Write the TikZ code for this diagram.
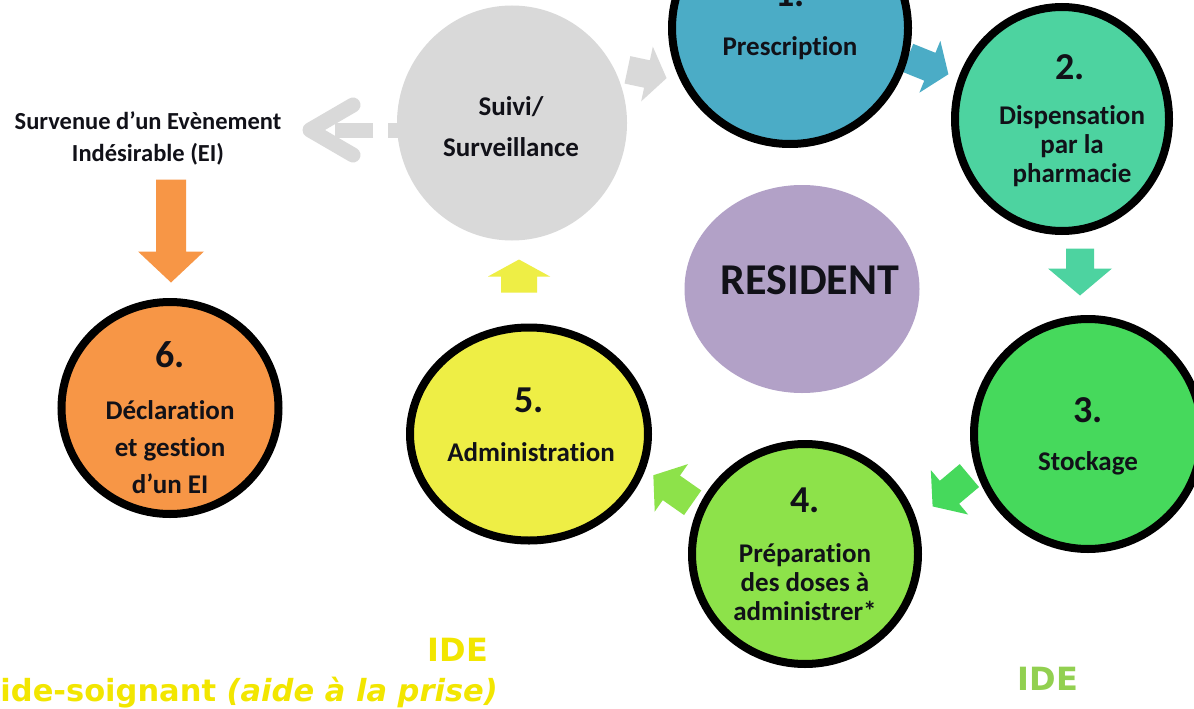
\documentclass[tikz,border=0pt]{standalone}
\usepackage{fontspec}
\usetikzlibrary{shapes.geometric}
\newfontfamily\calfont[Ligatures=NoCommon]{Carlito}
\newfontfamily\comicfont{DejaVu Sans}
\definecolor{colA}{HTML}{4BACC6}
\definecolor{colB}{HTML}{4DD3A0}
\definecolor{colC}{HTML}{46D95C}
\definecolor{colD}{HTML}{8DE24A}
\definecolor{colE}{HTML}{EEEE45}
\definecolor{colF}{HTML}{F79646}
\definecolor{colG}{HTML}{D9D9D9}
\definecolor{colP}{HTML}{B2A1C7}
\definecolor{txt}{HTML}{111118}
\definecolor{yeltxt}{HTML}{F2E600}
\definecolor{grntxt}{HTML}{92D050}
\newcommand\blockarr[8]{\fill[#4,shift={(#1,#2)},rotate=#3] (-#5/2,-#6/2) -- ({#5/2-#8},-#6/2) -- ({#5/2-#8},-#7/2) -- (#5/2,0) -- ({#5/2-#8},#7/2) -- ({#5/2-#8},#6/2) -- (-#5/2,#6/2) -- cycle;}
\tikzset{
  ring/.style={ellipse, draw=black, line width=8pt, inner sep=0pt},
  blob/.style={ellipse, inner sep=0pt},
  lbl/.style={font=\calfont\bfseries\fontsize{27}{29}\selectfont, align=center, text=txt, inner sep=0pt},
  num/.style={font=\calfont\bfseries\fontsize{38}{40}\selectfont, text=txt, inner sep=0pt},
  comic/.style={font=\comicfont\bfseries, inner sep=0pt}
}
\begin{document}
\begin{tikzpicture}[x=1pt,y=-1pt]
\useasboundingbox (0,0) rectangle (1194,709);
\clip (0,0) rectangle (1194,709);
\fill[white] (0,0) rectangle (1194,709);
% block arrows
\blockarr{647}{74}{-12}{colG}{40}{28}{56}{20}
\blockarr{928}{66}{-22}{colA}{44}{30}{56}{20}
\blockarr{1080}{272}{-90}{colB}{47}{28}{64}{27}
\blockarr{951}{491}{-140}{colC}{48}{30}{58}{22}
\blockarr{673}{489}{145}{colD}{48}{30}{58}{22}
\blockarr{519}{276}{90}{colE}{33}{36}{62}{17}
\blockarr{171}{231}{-90}{colF}{103}{30}{66}{31}
% dashed grey arrow
\coordinate (dstart) at (400,130);
\coordinate (dend) at (335,130);
\coordinate (chev) at (310,130);
\draw[colG, line width=15pt, dash pattern=on 12pt off 15pt on 38pt off 100pt] (dstart) -- (dend);
\draw[colG, line width=15pt, line cap=round, line join=round] ([shift={(43,-25)}]chev) -- (chev) -- ([shift={(43,25)}]chev);
% circles
\node[blob, fill=colG, minimum width=230pt, minimum height=235pt] (suivi) at (512,123) {};
\node[blob, fill=colP, minimum width=235pt, minimum height=208pt] (res) at (802,289) {};
\node[ring, fill=colA, minimum width=236pt, minimum height=232pt] (c1) at (790,28) {};
\node[ring, fill=colB, minimum width=214pt, minimum height=224pt] (c2) at (1062,119) {};
\node[ring, fill=colC, minimum width=228pt, minimum height=230pt] (c3) at (1088,434) {};
\node[ring, fill=colD, minimum width=226pt, minimum height=220pt] (c4) at (805,554) {};
\node[ring, fill=colE, minimum width=238pt, minimum height=213pt] (c5) at (529,434) {};
\node[ring, fill=colF, minimum width=217pt, minimum height=212pt] (c6) at (170,408) {};
% texts
\node[num] (n1) at (790,-6) {1.};
\node[lbl] (t1) at (790,48) {Prescription};
\node[num] (n2) at (1070,67) {2.};
\node[lbl] (t2) at (1072,146) {Dispensation\\par la\\pharmacie};
\node[num] (n3) at (1088,410) {3.};
\node[lbl] (t3) at (1088,463) {Stockage};
\node[num] (n4) at (805,500) {4.};
\node[lbl] (t4) at (805,582) {Préparation\\des doses à\\administrer*};
\node[num] (n5) at (529,400) {5.};
\node[lbl] (t5) at (531,452) {Administration};
\node[num] (n6) at (170,355) {6.};
\node[lbl, font=\calfont\bfseries\fontsize{27}{37}\selectfont] (t6) at (170,447) {Déclaration\\et gestion\\d’un EI};
\node[lbl, font=\calfont\bfseries\fontsize{27}{41}\selectfont] (ts) at (511,127) {Suivi/\\Surveillance};
\node[lbl, font=\calfont\bfseries\fontsize{44}{46}\selectfont] (tr) at (810,280) {RESIDENT};
\node[lbl, font=\calfont\bfseries\fontsize{24.5}{32}\selectfont] (tei) at (148,138) {Survenue d’un Evènement\\Indésirable (EI)};
\node[comic, text=yeltxt, font=\comicfont\bfseries\fontsize{32}{34}\selectfont, anchor=base] (ide1) at (458,661) {IDE};
\node[comic, text=yeltxt, font=\comicfont\bfseries\fontsize{30.5}{33}\selectfont, anchor=base east] (as) at (498,701) {Aide-soignant \textit{(aide à la prise)}};
\node[comic, text=grntxt, font=\comicfont\bfseries\fontsize{32}{34}\selectfont, anchor=base] (ide2) at (1048,690) {IDE};
\end{tikzpicture}
\end{document}
